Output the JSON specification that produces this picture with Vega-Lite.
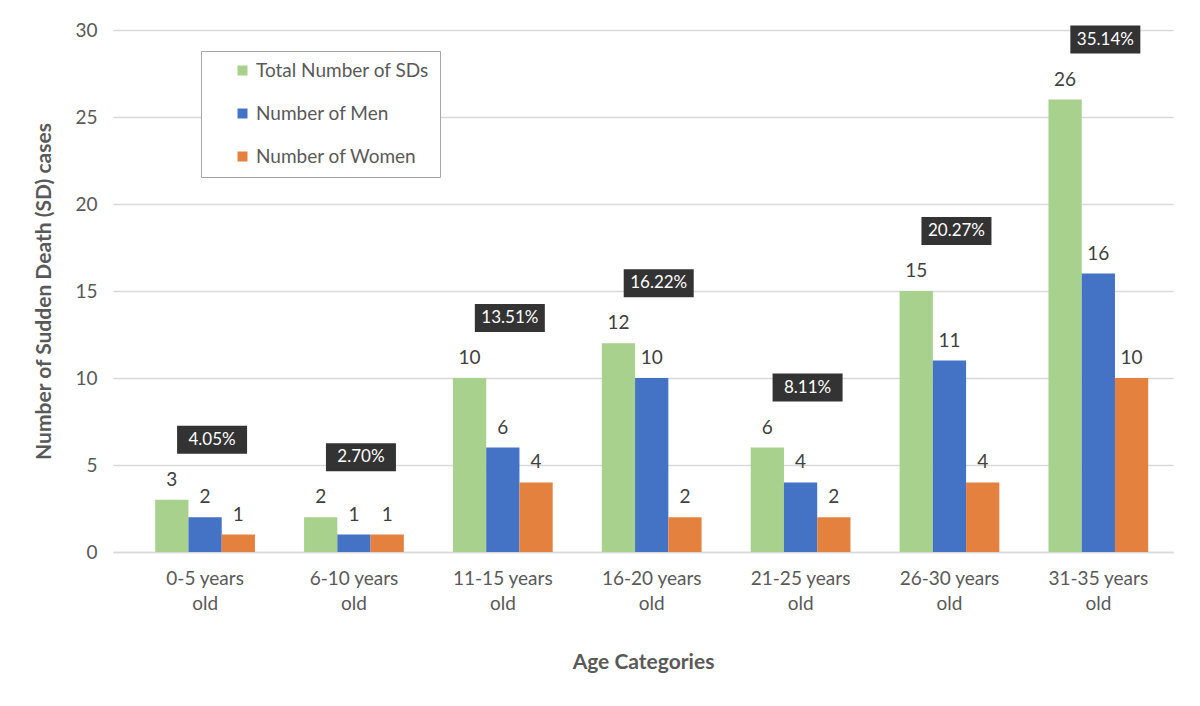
{
  "$schema": "https://vega.github.io/schema/vega-lite/v6.json",
  "width": 1060,
  "height": 522,
  "autosize": "none",
  "padding": {"left": 113, "top": 30, "right": 27, "bottom": 154},
  "background": "white",
  "config": {
    "font": "Lato",
    "view": {"stroke": null},
    "axis": {"labelFont": "Lato", "titleFont": "Lato", "labelColor": "#595959", "titleColor": "#595959"}
  },
  "datasets": {
    "counts": [
      {"age": "0-5 years old", "series": "Total Number of SDs", "value": 3},
      {"age": "0-5 years old", "series": "Number of Men", "value": 2},
      {"age": "0-5 years old", "series": "Number of Women", "value": 1},
      {"age": "6-10 years old", "series": "Total Number of SDs", "value": 2},
      {"age": "6-10 years old", "series": "Number of Men", "value": 1},
      {"age": "6-10 years old", "series": "Number of Women", "value": 1},
      {"age": "11-15 years old", "series": "Total Number of SDs", "value": 10},
      {"age": "11-15 years old", "series": "Number of Men", "value": 6},
      {"age": "11-15 years old", "series": "Number of Women", "value": 4},
      {"age": "16-20 years old", "series": "Total Number of SDs", "value": 12},
      {"age": "16-20 years old", "series": "Number of Men", "value": 10},
      {"age": "16-20 years old", "series": "Number of Women", "value": 2},
      {"age": "21-25 years old", "series": "Total Number of SDs", "value": 6},
      {"age": "21-25 years old", "series": "Number of Men", "value": 4},
      {"age": "21-25 years old", "series": "Number of Women", "value": 2},
      {"age": "26-30 years old", "series": "Total Number of SDs", "value": 15},
      {"age": "26-30 years old", "series": "Number of Men", "value": 11},
      {"age": "26-30 years old", "series": "Number of Women", "value": 4},
      {"age": "31-35 years old", "series": "Total Number of SDs", "value": 26},
      {"age": "31-35 years old", "series": "Number of Men", "value": 16},
      {"age": "31-35 years old", "series": "Number of Women", "value": 10}
    ],
    "shares": [
      {"age": "0-5 years old", "total": 3, "share": "4.05%"},
      {"age": "6-10 years old", "total": 2, "share": "2.70%"},
      {"age": "11-15 years old", "total": 10, "share": "13.51%"},
      {"age": "16-20 years old", "total": 12, "share": "16.22%"},
      {"age": "21-25 years old", "total": 6, "share": "8.11%"},
      {"age": "26-30 years old", "total": 15, "share": "20.27%"},
      {"age": "31-35 years old", "total": 26, "share": "35.14%"}
    ]
  },
  "encoding": {
    "x": {
      "field": "age",
      "type": "nominal",
      "sort": null,
      "scale": {"paddingInner": 0.33, "paddingOuter": 0.225, "align": 0.63},
      "axis": {
        "title": "Age Categories",
        "titleFontSize": 21,
        "titleFontWeight": "bold",
        "titlePadding": 38,
        "labelAngle": 0,
        "labelFontSize": 19,
        "labelPadding": 17,
        "labelLineHeight": 25,
        "labelExpr": "[replace(datum.label, ' old', ''), 'old']",
        "ticks": false,
        "domainColor": "#d9d9d9",
        "domainWidth": 1.5
      }
    }
  },
  "layer": [
    {
      "data": {"name": "counts"},
      "layer": [
        {
          "mark": {"type": "bar"},
          "encoding": {
            "xOffset": {
              "field": "series",
              "type": "nominal",
              "sort": ["Total Number of SDs", "Number of Men", "Number of Women"],
              "scale": {"paddingInner": 0, "paddingOuter": 0}
            },
            "y": {
              "field": "value",
              "type": "quantitative",
              "scale": {"domain": [0, 30]},
              "axis": {
                "title": "Number of Sudden Death (SD) cases",
                "titleFontSize": 21,
                "titleFontWeight": "bold",
                "titlePadding": 20,
                "labelFontSize": 19,
                "labelPadding": 16,
                "tickCount": 6,
                "ticks": false,
                "domain": false,
                "gridColor": "#d9d9d9",
                "gridWidth": 1.5
              }
            },
            "color": {
              "field": "series",
              "type": "nominal",
              "scale": {
                "domain": ["Total Number of SDs", "Number of Men", "Number of Women"],
                "range": ["#a9d18e", "#4472c4", "#e4813e"]
              },
              "legend": {
                "title": null,
                "orient": "none",
                "legendX": 88,
                "legendY": 21,
                "direction": "vertical",
                "symbolType": "square",
                "symbolSize": 100,
                "symbolOffset": 22,
                "labelOffset": 4,
                "labelFontSize": 19,
                "labelColor": "#595959",
                "labelLimit": 400,
                "labelExpr": "datum.label + '        '",
                "rowPadding": 23,
                "padding": 10,
                "strokeColor": "#a6a6a6",
                "fillColor": "white"
              }
            }
          }
        },
        {
          "mark": {"type": "text", "baseline": "alphabetic", "dy": -14, "fontSize": 19, "color": "#404040"},
          "encoding": {
            "xOffset": {
              "field": "series",
              "type": "nominal",
              "sort": ["Total Number of SDs", "Number of Men", "Number of Women"],
              "scale": {"paddingInner": 0, "paddingOuter": 0}
            },
            "y": {"field": "value", "type": "quantitative"},
            "text": {"field": "value", "type": "quantitative"}
          }
        }
      ]
    },
    {
      "data": {"name": "shares"},
      "layer": [
        {
          "mark": {
            "type": "point",
            "shape": "M-1,-0.4L1,-0.4L1,0.4L-1,0.4Z",
            "size": 4900,
            "filled": true,
            "opacity": 1,
            "color": "#333333",
            "xOffset": 7,
            "yOffset": -60
          },
          "encoding": {
            "y": {"field": "total", "type": "quantitative"}
          }
        },
        {
          "mark": {"type": "text", "color": "white", "fontSize": 17, "xOffset": 7, "yOffset": -60},
          "encoding": {
            "y": {"field": "total", "type": "quantitative"},
            "text": {"field": "share", "type": "nominal"}
          }
        }
      ]
    }
  ]
}
